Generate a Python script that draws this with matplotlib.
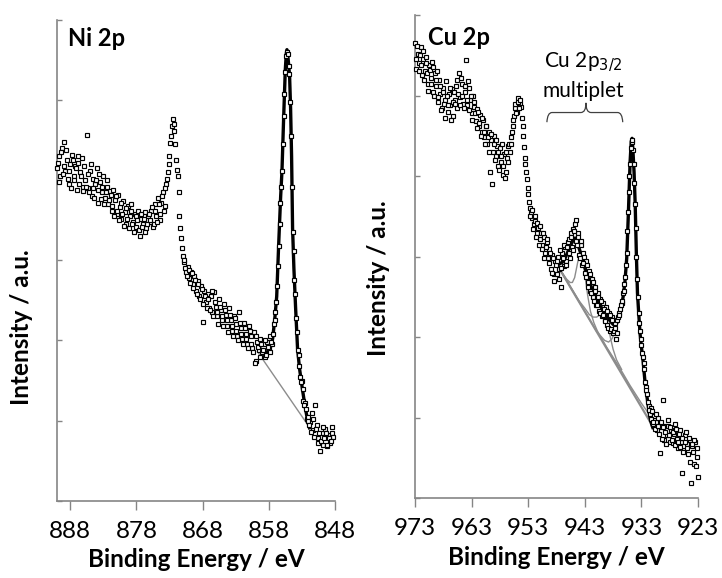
"""XPS Ni 2p / Cu 2p spectra with fitted envelopes, two panels side by side."""
import numpy as np
import matplotlib.pyplot as plt
from matplotlib.path import Path
from matplotlib.patches import PathPatch

plt.rcParams["font.family"] = ["Lato", "DejaVu Sans"]

AXIS, GREY = "#858585", "#8c8c8c"

# ---- Ni 2p: measured counts, 0.125 eV apart, split in two interleaved sweeps ---- #
# sweep a: 890.000, 889.750, ... ; sweep b: 889.875, 889.625, ...
NI_START, NI_STEP = 890.0, -0.25
ni_a = [
    4.15, 4.30, 4.05, 4.40, 4.48, 4.12, 4.25, 3.95, 4.20, 4.32, 4.05, 4.18, 3.88, 4.22, 4.10, 4.28, 3.92,
    4.00, 4.56, 3.90, 4.12, 3.80, 4.02, 3.95, 4.15, 3.72, 3.98, 3.85, 4.05, 3.78, 3.92, 3.70, 3.86,
    3.62, 3.88, 3.75, 3.58, 3.82, 3.66, 3.52, 3.74, 3.60, 3.45, 3.68, 3.55, 3.70, 3.48, 3.58, 3.42,
    3.62, 3.31, 3.52, 3.45, 3.60, 3.40, 3.55, 3.48,
    3.62, 3.42, 3.70, 3.55, 3.78, 3.50, 3.72, 3.85, 3.68, 3.95,
    4.10, 4.30, 4.55, 4.76, 4.62, 4.25, 4.05, 3.55, 3.28, 3.05,
    2.98, 2.85, 2.92, 2.78, 2.86, 2.70, 2.80, 2.62, 2.74, 2.55, 2.68, 2.23, 2.62, 2.48, 2.58, 2.40,
    2.55, 2.35, 2.60, 2.42, 2.30, 2.52, 2.38, 2.25, 2.45, 2.32, 2.18, 2.40, 2.25, 2.12, 2.30, 2.20,
    2.05, 2.35, 2.15, 2.02, 2.22, 2.08, 1.95, 2.18, 2.05, 1.90, 2.10, 1.74, 1.98, 1.88, 2.02, 1.85,
    1.95, 1.80, 1.98, 1.90, 2.05, 1.96, 2.20, 2.35, 2.68, 3.18, 3.72, 4.12, 4.80, 5.35, 5.60, 5.42,
    4.98, 3.92, 3.12, 2.58, 2.10, 1.82, 1.55, 1.50, 1.25, 1.22, 1.02, 1.05,
    0.98, 1.10, 0.88, 1.20, 0.95, 0.78, 0.62, 0.85, 0.70, 0.90, 0.68, 0.82, 0.72, 0.85, 0.80,
]
ni_b = [
    4.22, 3.98, 4.35, 4.08, 4.18, 4.38, 4.02, 4.12, 3.90, 4.25, 4.00, 4.15, 4.30, 3.95, 4.05, 3.86, 4.18,
    3.92, 4.08, 3.85, 4.20, 3.90, 3.78, 4.00, 3.88, 4.08, 3.76, 3.92, 3.70, 3.85, 4.00, 3.75, 3.82,
    3.68, 3.55, 3.80, 3.62, 3.50, 3.72, 3.58, 3.43, 3.65, 3.52, 3.40, 3.62, 3.46, 3.35, 3.55, 3.50,
    3.38, 3.58, 3.42, 3.52, 3.36, 3.46, 3.58,
    3.50, 3.66, 3.45, 3.62, 3.48, 3.70, 3.58, 3.80, 3.62, 3.90,
    4.02, 4.20, 4.47, 4.68, 4.70, 4.45, 4.13, 3.85, 3.40, 3.15,
    3.00, 2.90, 2.80, 2.88, 2.72, 2.84, 2.66, 2.75, 2.58, 2.70, 2.52, 2.64, 2.45, 2.56, 2.40, 2.52,
    2.38, 2.62, 2.30, 2.48, 2.36, 2.20, 2.42, 2.30, 2.18, 2.38, 2.25, 2.10, 2.32, 2.18, 2.05, 2.28,
    2.12, 2.00, 2.22, 2.08, 1.96, 2.15, 2.02, 1.90, 2.12, 1.96, 1.85, 1.72, 2.05, 1.92, 1.80, 1.96,
    1.88, 2.00, 1.82, 1.92, 1.86, 1.98, 2.08, 2.26, 2.48, 2.93, 3.45, 3.92, 4.45, 5.08, 5.55, 5.58,
    5.32, 4.55, 3.35, 2.75, 2.28, 1.88, 1.68, 1.48, 1.40, 1.20, 1.15, 1.00,
    0.95, 0.86, 1.02, 0.80, 0.90, 0.72, 0.84, 0.75, 0.92, 0.78, 0.84, 0.70, 0.78, 0.74, 0.92,
]
ni_fit_ev = [859.4, 859.0, 858.6, 858.2, 857.9, 857.6, 857.4, 857.1, 856.8, 856.5, 856.2, 856.0,
             855.75, 855.5, 855.35, 855.25, 855.15, 855.0, 854.85, 854.7, 854.55, 854.4, 854.2,
             853.95, 853.65, 853.35, 853.05, 852.6, 852.15, 851.85]
ni_fit = [1.91, 1.87, 1.85, 1.86, 1.88, 1.95, 2.03, 2.26, 2.55, 3.20, 3.80, 4.12,
          4.78, 5.38, 5.58, 5.63, 5.58, 5.45, 5.30, 4.90, 4.30, 3.40, 2.90,
          2.42, 1.90, 1.65, 1.47, 1.22, 1.01, 0.91]
ni_bg_ev = [859.7, 851.8]
ni_bg = [1.86, 0.91]

# ---- Cu 2p: measured counts, same two interleaved sweeps from 973.000 eV -------- #
CU_START, CU_STEP = 973.0, -0.25
cu_a = [
    5.65, 5.33, 5.52, 5.40, 5.60, 5.25, 5.45, 5.30, 5.48, 5.15, 5.38, 5.22, 5.42, 5.05, 5.28, 5.12,
    4.92, 5.20, 5.02, 4.85, 5.10, 4.95, 5.18, 4.80, 5.02, 4.88, 5.08, 4.75, 4.95,
    5.12, 4.85, 5.28, 4.98, 5.15, 4.90, 5.05, 5.44, 4.88, 5.10, 4.95, 4.78, 5.00, 4.86, 4.68, 4.84,
    4.62, 4.76, 4.55, 4.70, 4.48, 4.62, 4.40, 4.55, 4.05, 4.45, 4.30, 4.50, 4.25, 4.38,
    4.12, 4.35, 4.18, 4.02, 4.28, 4.05, 4.22, 4.38, 4.30,
    4.48, 4.62, 4.75, 4.85, 4.80, 4.97, 4.90, 4.86, 4.62, 4.36, 4.15, 3.96, 3.78, 3.60, 3.54, 3.48,
    3.40, 3.44, 3.30, 3.36, 3.22, 3.30, 3.15, 3.24, 3.05, 3.18, 2.98, 3.10, 2.85, 3.02, 2.78, 2.95,
    2.78, 3.00, 2.85, 2.62, 3.05, 2.88, 3.12, 2.95, 3.18, 3.05, 3.30, 3.12, 3.35, 3.40, 3.20, 3.30,
    3.02, 3.15, 2.90, 3.05, 2.80, 2.95, 2.68, 2.82, 2.58, 2.72, 2.50, 2.62, 2.40, 2.55, 2.32, 2.48,
    2.26, 2.42, 2.22, 2.38, 2.15, 2.30, 2.08, 2.25, 2.05, 2.18, 1.98, 2.22, 2.30, 2.35, 2.42, 2.55,
    2.66, 2.90, 3.32, 3.80, 4.15, 4.42, 4.33, 3.92, 3.36, 2.72, 2.30, 2.08,
    1.90, 1.75, 1.60, 1.38, 1.30, 1.15, 1.05, 1.12, 0.92, 1.02, 0.95, 0.85, 1.00, 0.56, 0.88, 1.22,
    0.72, 0.90, 0.78, 0.97, 0.70, 0.85, 0.69, 0.80, 0.92, 0.74, 0.62, 0.85, 0.70, 0.31, 0.60, 0.78,
    0.68, 0.55, 0.72, 0.19, 0.65, 0.43, 0.70, 0.51, 0.27,
]
cu_b = [
    5.45, 5.62, 5.30, 5.50, 5.38, 5.55, 5.20, 5.40, 5.28, 5.06, 5.32, 5.15, 5.35, 5.00, 5.20, 5.30,
    4.98, 5.12, 4.82, 5.05, 4.90, 4.72, 5.00, 4.88, 5.10, 4.70, 4.92, 5.05,
    4.90, 5.20, 5.02, 4.88, 5.22, 5.00, 4.85, 5.12, 4.95, 5.18, 4.82, 5.00, 4.70, 4.92, 4.78, 4.60,
    4.80, 4.66, 4.50, 4.72, 4.55, 4.40, 4.62, 4.48, 4.30, 4.52, 3.90, 4.40, 4.20, 4.45,
    4.30, 4.08, 4.25, 4.40, 4.12, 3.98, 4.30, 4.18, 4.40,
    4.40, 4.55, 4.70, 4.90, 4.78, 4.92, 4.85, 4.95, 4.72, 4.50, 4.22, 4.05, 3.85, 3.68, 3.50, 3.58,
    3.35, 3.50, 3.25, 3.42, 3.15, 3.38, 3.10, 3.30, 2.98, 3.12, 3.22, 2.92, 3.05, 2.80, 2.98, 2.70,
    2.90,
    2.95, 2.72, 3.08, 2.86, 2.98, 3.15, 2.90, 3.12, 3.22, 2.98, 3.25, 3.08, 3.32, 3.45, 3.15, 3.25,
    2.98, 3.20, 2.92, 3.00, 2.75, 2.90, 2.62, 2.78, 2.55, 2.68, 2.45, 2.58, 2.40, 2.50, 2.30, 2.45,
    2.28, 2.35, 2.20, 2.32, 2.12, 2.28, 2.10, 2.22, 2.08, 2.12, 2.05, 2.25, 2.28, 2.40, 2.45,
    2.58, 2.75, 3.05, 3.55, 4.00, 4.35, 4.45, 4.15, 3.65, 3.00, 2.50, 2.18,
    1.98, 1.80, 1.68, 1.45, 1.35, 1.20, 1.10, 0.98, 1.08, 0.95, 0.86, 1.05, 0.90, 0.80, 0.95, 0.74,
    0.88, 0.82, 0.68, 0.90, 0.78, 0.88, 0.72, 0.82, 0.66, 0.86, 0.70, 0.80, 0.64, 0.75, 0.58, 0.70,
    0.82, 0.62, 0.75, 0.45, 0.68, 0.58, 0.72, 0.40, 0.62,
]
cu_fit_ev = [947.95, 947.5, 947.0, 946.5, 946.0, 945.5, 945.1, 944.8, 944.6, 944.3, 943.9, 943.5,
             943.0, 942.5, 942.0, 941.5, 941.0, 940.5, 940.0, 939.5, 939.0, 938.5, 938.0, 937.7,
             937.4, 937.1, 936.8, 936.5, 936.2, 935.9, 935.6, 935.3, 935.0, 934.8, 934.65, 934.5,
             934.3, 934.1, 933.9, 933.7, 933.5, 933.25, 933.0, 932.7, 932.4, 932.1, 931.8, 931.5,
             931.2, 931.0]
cu_fit = [2.89, 2.91, 2.93, 2.98, 3.06, 3.14, 3.20, 3.23, 3.23, 3.17, 3.08, 3.00,
          2.87, 2.76, 2.65, 2.56, 2.48, 2.41, 2.36, 2.31, 2.25, 2.20, 2.16, 2.15,
          2.17, 2.22, 2.30, 2.38, 2.52, 2.70, 2.98, 3.55, 4.18, 4.43, 4.47, 4.32,
          4.05, 3.65, 3.05, 2.55, 2.32, 2.05, 1.88, 1.70, 1.47, 1.30, 1.15, 1.01,
          0.92, 0.88]
# fitted components (each drawn on top of the background)
cu_bg_ev = [947.9, 931.3]
cu_bg = [2.90, 0.93]
cu_c1_ev = [947.9, 947.0, 946.2, 945.6, 945.2, 944.8, 944.4, 944.0, 943.7, 943.4, 943.0, 942.5,
            942.0, 941.4, 940.8, 940.0, 939.0, 937.0, 935.0, 933.0, 930.9]
cu_c1 = [2.90, 2.80, 2.72, 2.68, 2.68, 2.74, 2.88, 3.02, 3.05, 2.98, 2.78, 2.52,
         2.32, 2.18, 2.08, 1.98, 1.86, 1.64, 1.40, 1.18, 0.97]
cu_c2_ev = [947.9, 946.0, 944.0, 943.0, 942.2, 941.5, 940.9, 940.3, 939.8, 939.4, 939.0, 938.5,
            938.0, 937.4, 936.5]
cu_c2 = [2.90, 2.68, 2.45, 2.36, 2.28, 2.25, 2.25, 2.28, 2.30, 2.28, 2.18, 2.00,
         1.85, 1.72, 1.60]
cu_c3_ev = [947.9, 944.0, 941.0, 939.5, 938.8, 938.2, 937.6, 937.0, 936.5, 936.0, 935.6, 935.3,
            935.0, 934.8, 934.65, 934.5, 934.3, 934.1, 933.9, 933.7, 933.5, 933.25, 933.0, 932.5,
            932.0, 931.5, 931.0]
cu_c3 = [2.90, 2.44, 2.08, 1.96, 1.94, 1.98, 2.08, 2.22, 2.35, 2.58, 2.90, 3.45,
         4.12, 4.40, 4.45, 4.30, 4.02, 3.62, 3.02, 2.52, 2.28, 2.02, 1.84, 1.55,
         1.27, 1.00, 0.86]

NI_TICKS = [888, 878, 868, 858, 848]
CU_TICKS = [973, 963, 953, 943, 933, 923]


def grid(start, step, n):
    return start + step * np.arange(n)


def style(ax, xlim, ticks):
    ax.set_xlim(*xlim)
    ax.set_ylim(0, 6)
    ax.set_xticks(ticks)
    ax.set_yticks(range(7))
    ax.set_yticklabels([])
    ax.spines[["top", "right"]].set_visible(False)
    for s in ("left", "bottom"):
        ax.spines[s].set_color(AXIS)
        ax.spines[s].set_linewidth(1.2)
    ax.tick_params(axis="x", direction="out", length=6.5, width=1, color=AXIS,
                   labelsize=17.5, pad=8)
    ax.tick_params(axis="y", direction="in", length=3.5, width=1, color=AXIS)
    ax.set_xlabel("Binding Energy / eV", fontsize=17.5, fontweight="bold")
    ax.xaxis.set_label_coords(0.5, -0.098)
    ax.set_ylabel("Intensity / a.u.", fontsize=17.5, fontweight="bold")


def scatter(ax, start, step, sweep_a, sweep_b):
    for off, ys in ((0.0, sweep_a), (step / 2, sweep_b)):
        ax.plot(grid(start + off, step, len(ys)), ys, ls="none", marker="s", ms=3.2,
                mew=0.85, mfc="white", mec="black", zorder=4, clip_on=False)


fig = plt.figure(figsize=(7.22, 5.78), dpi=100)
ax1 = fig.add_axes([0.0789, 0.1337, 0.385, 0.8317])
ax2 = fig.add_axes([0.5748, 0.1379, 0.392, 0.836])

# left: Ni 2p
style(ax1, (890, 848), NI_TICKS)
ax1.yaxis.set_label_coords(-0.085, 0.36)
ax1.plot(ni_bg_ev, ni_bg, color=GREY, lw=1.0, zorder=2)
ax1.plot(ni_fit_ev, ni_fit, color="black", lw=2.4, zorder=3, solid_joinstyle="round")
scatter(ax1, NI_START, NI_STEP, ni_a, ni_b)
ax1.text(0.04, 0.985, "Ni 2p", transform=ax1.transAxes, fontsize=17, fontweight="bold",
         va="top", ha="left")

# right: Cu 2p
style(ax2, (973, 923), CU_TICKS)
ax2.yaxis.set_label_coords(-0.09, 0.455)
ax2.plot(cu_bg_ev, cu_bg, color=GREY, lw=1.6, zorder=2)
for ev, comp in ((cu_c1_ev, cu_c1), (cu_c2_ev, cu_c2), (cu_c3_ev, cu_c3)):
    ax2.plot(ev, comp, color=GREY, lw=1.0, zorder=2)
ax2.plot(cu_fit_ev, cu_fit, color="black", lw=2.4, zorder=3, solid_joinstyle="round")
scatter(ax2, CU_START, CU_STEP, cu_a, cu_b)
ax2.text(0.046, 0.978, "Cu 2p", transform=ax2.transAxes, fontsize=17, fontweight="bold",
         va="top", ha="left")
ax2.text(943.2, 5.41, "Cu 2p$_{3/2}$", fontsize=15, ha="center", va="center")
ax2.text(943.2, 5.06, "multiplet", fontsize=15, ha="center", va="center")

# curly brace over the multiplet region
xl, xm, xr = 949.7, 942.8, 936.3
yb, yh, yt = 4.67, 4.79, 4.91
verts = [(xl, yb), (xl - 0.1, yh), (xl - 0.9, yh), (xm + 0.9, yh), (xm, yh), (xm, yt),
         (xm, yh), (xm - 0.9, yh), (xr + 0.9, yh), (xr + 0.1, yh), (xr, yb)]
codes = [Path.MOVETO, Path.CURVE3, Path.CURVE3, Path.LINETO, Path.CURVE3, Path.CURVE3,
         Path.CURVE3, Path.CURVE3, Path.LINETO, Path.CURVE3, Path.CURVE3]
ax2.add_patch(PathPatch(Path(verts, codes), fill=False, color="#404040", lw=0.9))

fig.savefig("out.png", dpi=100)
